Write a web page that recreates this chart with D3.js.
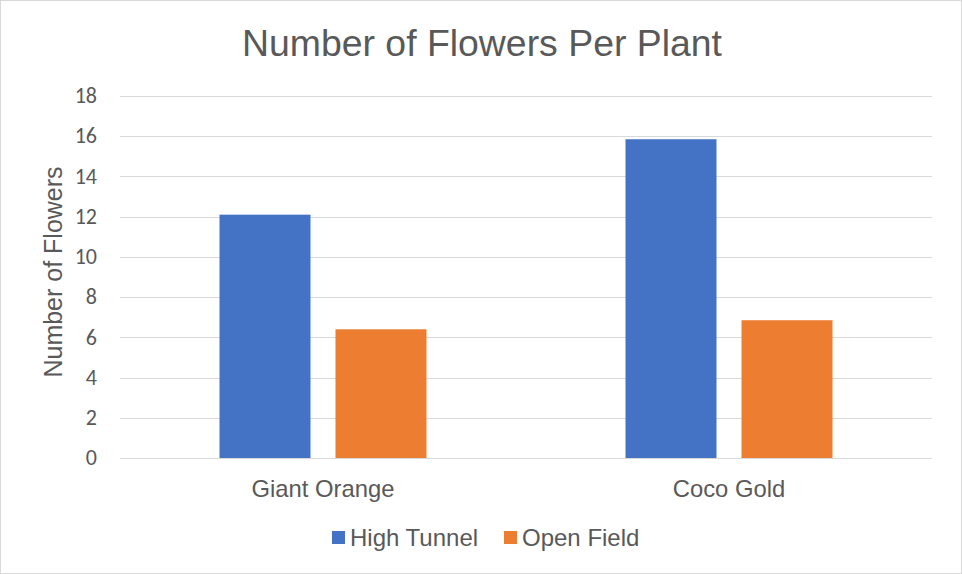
<!DOCTYPE html>
<html><head><meta charset="utf-8">
<script src="https://cdn.jsdelivr.net/npm/d3@7"></script>
<style>body{margin:0;background:#fff;}svg{display:block;font-family:"Liberation Sans",Arial,sans-serif;}</style>
</head><body>
<svg id="c" width="962" height="574"></svg>
<script>
const categories = ["Giant Orange", "Coco Gold"];
const seriesNames = ["High Tunnel", "Open Field"];
const highTunnel = [12.1, 15.85];
const openField = [6.4, 6.85];
const yTicks = [0, 2, 4, 6, 8, 10, 12, 14, 16, 18];
const colors = ["#4472C4", "#ED7D31"];

(function(){
const svg = d3.select("#c");
svg.append("rect").attr("x",0.5).attr("y",0.5).attr("width",961).attr("height",573)
  .attr("fill","#fff").attr("stroke","#d9d9d9");

const pLeft = 120, pRight = 932, pTop = 96, pBottom = 458;
const x0 = d3.scaleBand().domain(categories).range([pLeft, pRight]).paddingInner(0).paddingOuter(0);
const y = d3.scaleLinear().domain([0, 18]).range([pBottom, pTop]);
const barW = 91, gap = 25;
const x1 = d3.scaleOrdinal().domain(seriesNames).range([-(gap/2 + barW), gap/2]);

svg.append("g").selectAll("line").data(yTicks).join("line")
  .attr("x1", pLeft).attr("x2", pRight)
  .attr("y1", d => Math.round(y(d)) + 0.5).attr("y2", d => Math.round(y(d)) + 0.5)
  .attr("stroke", "#d9d9d9").attr("stroke-width", 1);

svg.append("g").selectAll("text").data(yTicks).join("text")
  .attr("x", 97).attr("y", d => y(d)).attr("dy", "0.33em")
  .attr("text-anchor", "end").attr("fill", "#595959").attr("font-size", 22)
  .attr("font-family", "Carlito, Calibri, 'Liberation Sans', sans-serif")
  .text(d => d);

const data = categories.map((c, i) => ({c, vals: [highTunnel[i], openField[i]]}));
const g = svg.append("g");
data.forEach(d => {
  d.vals.forEach((v, j) => {
    const cx = x0(d.c) + x0.bandwidth() / 2;
    g.append("rect")
      .attr("x", cx + x1(seriesNames[j])).attr("width", barW)
      .attr("y", y(v)).attr("height", y(0) - y(v))
      .attr("fill", colors[j]);
  });
});

svg.append("g").selectAll("text").data(categories).join("text")
  .attr("x", d => x0(d) + x0.bandwidth() / 2).attr("y", 497)
  .attr("text-anchor", "middle").attr("fill", "#595959").attr("font-size", 23.8)
  .text(d => d);

svg.append("text").attr("x", 482).attr("y", 56).attr("text-anchor", "middle")
  .attr("fill", "#595959").attr("font-size", 37.4).text("Number of Flowers Per Plant");

svg.append("text").attr("transform", "translate(62,272) rotate(-90)")
  .attr("text-anchor", "middle").attr("fill", "#595959").attr("font-size", 25)
  .text("Number of Flowers");

const leg = svg.append("g");
const legX = [332, 504];
seriesNames.forEach((s, i) => {
  leg.append("rect").attr("x", legX[i]).attr("y", 531).attr("width", 13).attr("height", 13).attr("fill", colors[i]);
  leg.append("text").attr("x", legX[i] + 18).attr("y", 546).attr("fill", "#595959").attr("font-size", 24).text(s);
});
})();
</script>
</body></html>
